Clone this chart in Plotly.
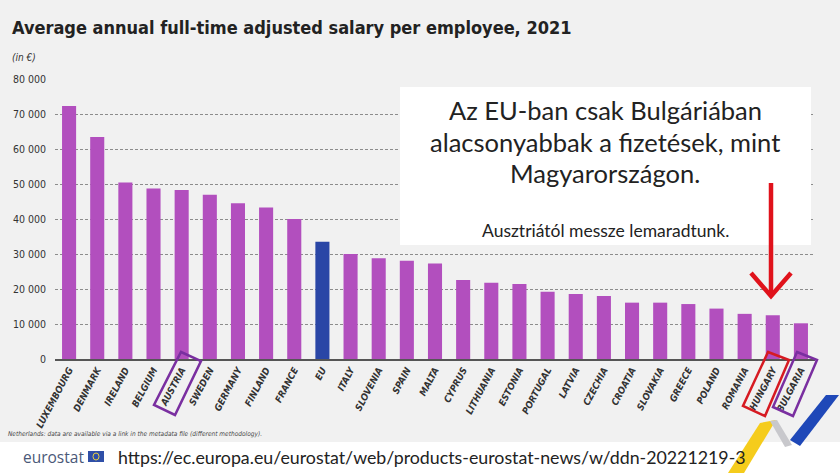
import plotly.graph_objects as go

countries = ["LUXEMBOURG", "DENMARK", "IRELAND", "BELGIUM", "AUSTRIA", "SWEDEN",
             "GERMANY", "FINLAND", "FRANCE", "EU", "ITALY", "SLOVENIA", "SPAIN",
             "MALTA", "CYPRUS", "LITHUANIA", "ESTONIA", "PORTUGAL", "LATVIA",
             "CZECHIA", "CROATIA", "SLOVAKIA", "GREECE", "POLAND", "ROMANIA",
             "HUNGARY", "BULGARIA"]
salary = [72300, 63400, 50400, 48700, 48300, 46900,
          44500, 43300, 40000, 33500, 30000, 28800, 28100,
          27300, 22600, 21800, 21400, 19200, 18600,
          18000, 16100, 16100, 15700, 14400, 12900,
          12500, 10200]
y_ticks = [0, 10000, 20000, 30000, 40000, 50000, 60000, 70000, 80000]

W, H = 840, 473
L, R, T, B = 55, 815, 79, 359
NARROW = "DejaVu Sans Condensed, Roboto, sans-serif"
SOFT = "Lato, Open Sans, sans-serif"
BG = "#f1f1f1"


def px(x, y):
    # pixel -> paper
    return (x - L) / (R - L), (B - y) / (B - T)


def path(points):
    pts = [px(x, y) for x, y in points]
    s = "M %f %f" % pts[0]
    for p in pts[1:]:
        s += " L %f %f" % p
    return s + " Z"


purple = "#b24fbe"
bar_colors = ["#2a46a6" if c == "EU" else purple for c in countries]
tick_text = ["<b>EU</b>" if c == "EU" else c for c in countries]

fig = go.Figure()
fig.add_trace(go.Bar(x=countries, y=salary, marker_color=bar_colors,
                     marker_line_width=0, width=0.5, showlegend=False))

fig.update_layout(
    width=W, height=H,
    margin=dict(l=L, r=W - R, t=T, b=H - B, autoexpand=False),
    paper_bgcolor=BG, plot_bgcolor=BG,
    separators=". ",
    font=dict(family=NARROW, color="#333333"),
)
fig.update_xaxes(
    tickmode="array", tickvals=countries, ticktext=tick_text,
    tickangle=-62, tickfont=dict(size=9.5, family=NARROW, color="#333333",
                                 style="italic", weight="bold"),
    showline=True, linecolor="#555555", linewidth=1.5, showgrid=False,
    range=[-0.5, len(countries) - 0.5], automargin=False,
)
fig.update_yaxes(
    range=[0, 80000], tickvals=y_ticks, tickformat=",d",
    tickfont=dict(size=10.5, family=NARROW, color="#333333"),
    showgrid=True, gridcolor="#8c8c8c", griddash="3px,2px", gridwidth=1,
    zeroline=False, ticklabelstandoff=8, automargin=False,
)

shapes = []
# white bottom band
x0, y0 = px(0, 442)
x1, y1 = px(W, H)
shapes.append(dict(type="rect", xref="paper", yref="paper", x0=x0, y0=y0, x1=x1, y1=y1,
                   fillcolor="white", line_width=0, layer="below"))
# comment box
x0, y0 = px(400, 87)
x1, y1 = px(811, 245)
shapes.append(dict(type="rect", xref="paper", yref="paper", x0=x0, y0=y0, x1=x1, y1=y1,
                   fillcolor="white", line_width=0, layer="above"))
# red arrow
ax0, ay0 = px(771, 183)
ax1, ay1 = px(771, 294)
shapes.append(dict(type="line", xref="paper", yref="paper", x0=ax0, y0=ay0, x1=ax1, y1=ay1,
                   line=dict(color="#e0121b", width=4.5)))
cx0, cy0 = px(751, 273)
cx1, cy1 = px(771, 296)
cx2, cy2 = px(791, 273)
shapes.append(dict(type="path", xref="paper", yref="paper",
                   path="M %f %f L %f %f L %f %f" % (cx0, cy0, cx1, cy1, cx2, cy2),
                   line=dict(color="#e0121b", width=4.5)))
# label boxes
shapes.append(dict(type="path", xref="paper", yref="paper",
                   path=path([(181, 352), (201, 361), (175, 415), (154, 405)]),
                   line=dict(color="#7a2fa0", width=2.5)))
shapes.append(dict(type="path", xref="paper", yref="paper",
                   path=path([(768, 352), (789, 360), (765, 416), (743, 406)]),
                   line=dict(color="#d61a22", width=2.5)))
shapes.append(dict(type="path", xref="paper", yref="paper",
                   path=path([(797, 352), (817, 360), (793, 416), (773, 407)]),
                   line=dict(color="#7a2fa0", width=2.5)))
# eurostat decoration
shapes.append(dict(type="path", xref="paper", yref="paper",
                   path=path([(728, 473), (760, 423), (776, 420), (744, 473)]),
                   fillcolor="#f5cc1c", line_width=0))
shapes.append(dict(type="path", xref="paper", yref="paper",
                   path=path([(770, 421), (777, 420), (792, 445), (785, 447)]),
                   fillcolor="#c8c8cc", line_width=0))
shapes.append(dict(type="path", xref="paper", yref="paper",
                   path=path([(790, 440), (826, 395), (839, 395), (800, 446)]),
                   fillcolor="#1f48b8", line_width=0))
# EU flag
fx0, fy0 = px(88, 451)
fx1, fy1 = px(104, 462)
shapes.append(dict(type="rect", xref="paper", yref="paper", x0=fx0, y0=fy0, x1=fx1, y1=fy1,
                   fillcolor="#2f4fa8", line_width=0))
sx0, sy0 = px(93, 453)
sx1, sy1 = px(99, 460)
shapes.append(dict(type="circle", xref="paper", yref="paper", x0=sx0, y0=sy0, x1=sx1, y1=sy1,
                   line=dict(color="#e8d040", width=1)))
fig.update_layout(shapes=shapes)


def note(x, y, text, size, color="#333333", family=NARROW, xanchor="left", **kw):
    xp, yp = px(x, y)
    fig.add_annotation(x=xp, y=yp, xref="paper", yref="paper", text=text,
                       showarrow=False, xanchor=xanchor, yanchor="middle",
                       font=dict(size=size, color=color, family=family, **kw))


note(10, 28, "Average annual full-time adjusted salary per employee, 2021", 18,
     color="#222222", weight="bold")
note(10, 57, "<i>(in €)</i>", 10)
note(6, 434, "<i>Netherlands: data are available via a link in the metadata file (different methodology).</i>",
     6.5, color="#444444")
note(605, 110, "Az EU-ban csak Bulgáriában", 25.5, color="#222222", family=SOFT, xanchor="center")
note(605, 142, "alacsonyabbak a fizetések, mint", 25.5, color="#222222", family=SOFT, xanchor="center")
note(605, 173, "Magyarországon.", 25.5, color="#222222", family=SOFT, xanchor="center")
note(605, 230, "Ausztriától messze lemaradtunk.", 17.5, color="#222222", family=SOFT, xanchor="center")
note(86, 457, "eurostat", 15.5, color="#4a5878", family="Open Sans, sans-serif", xanchor="right")
note(116, 457, "https://ec.europa.eu/eurostat/web/products-eurostat-news/w/ddn-20221219-3", 17.8,
     color="#222222", family=SOFT)

# the page's default 8px body margin would shift the figure; remove it
fig.write_html("out.html", config={"displayModeBar": False},
               post_script="document.body.style.margin='0';"
                           "document.body.style.background='%s';" % BG)
